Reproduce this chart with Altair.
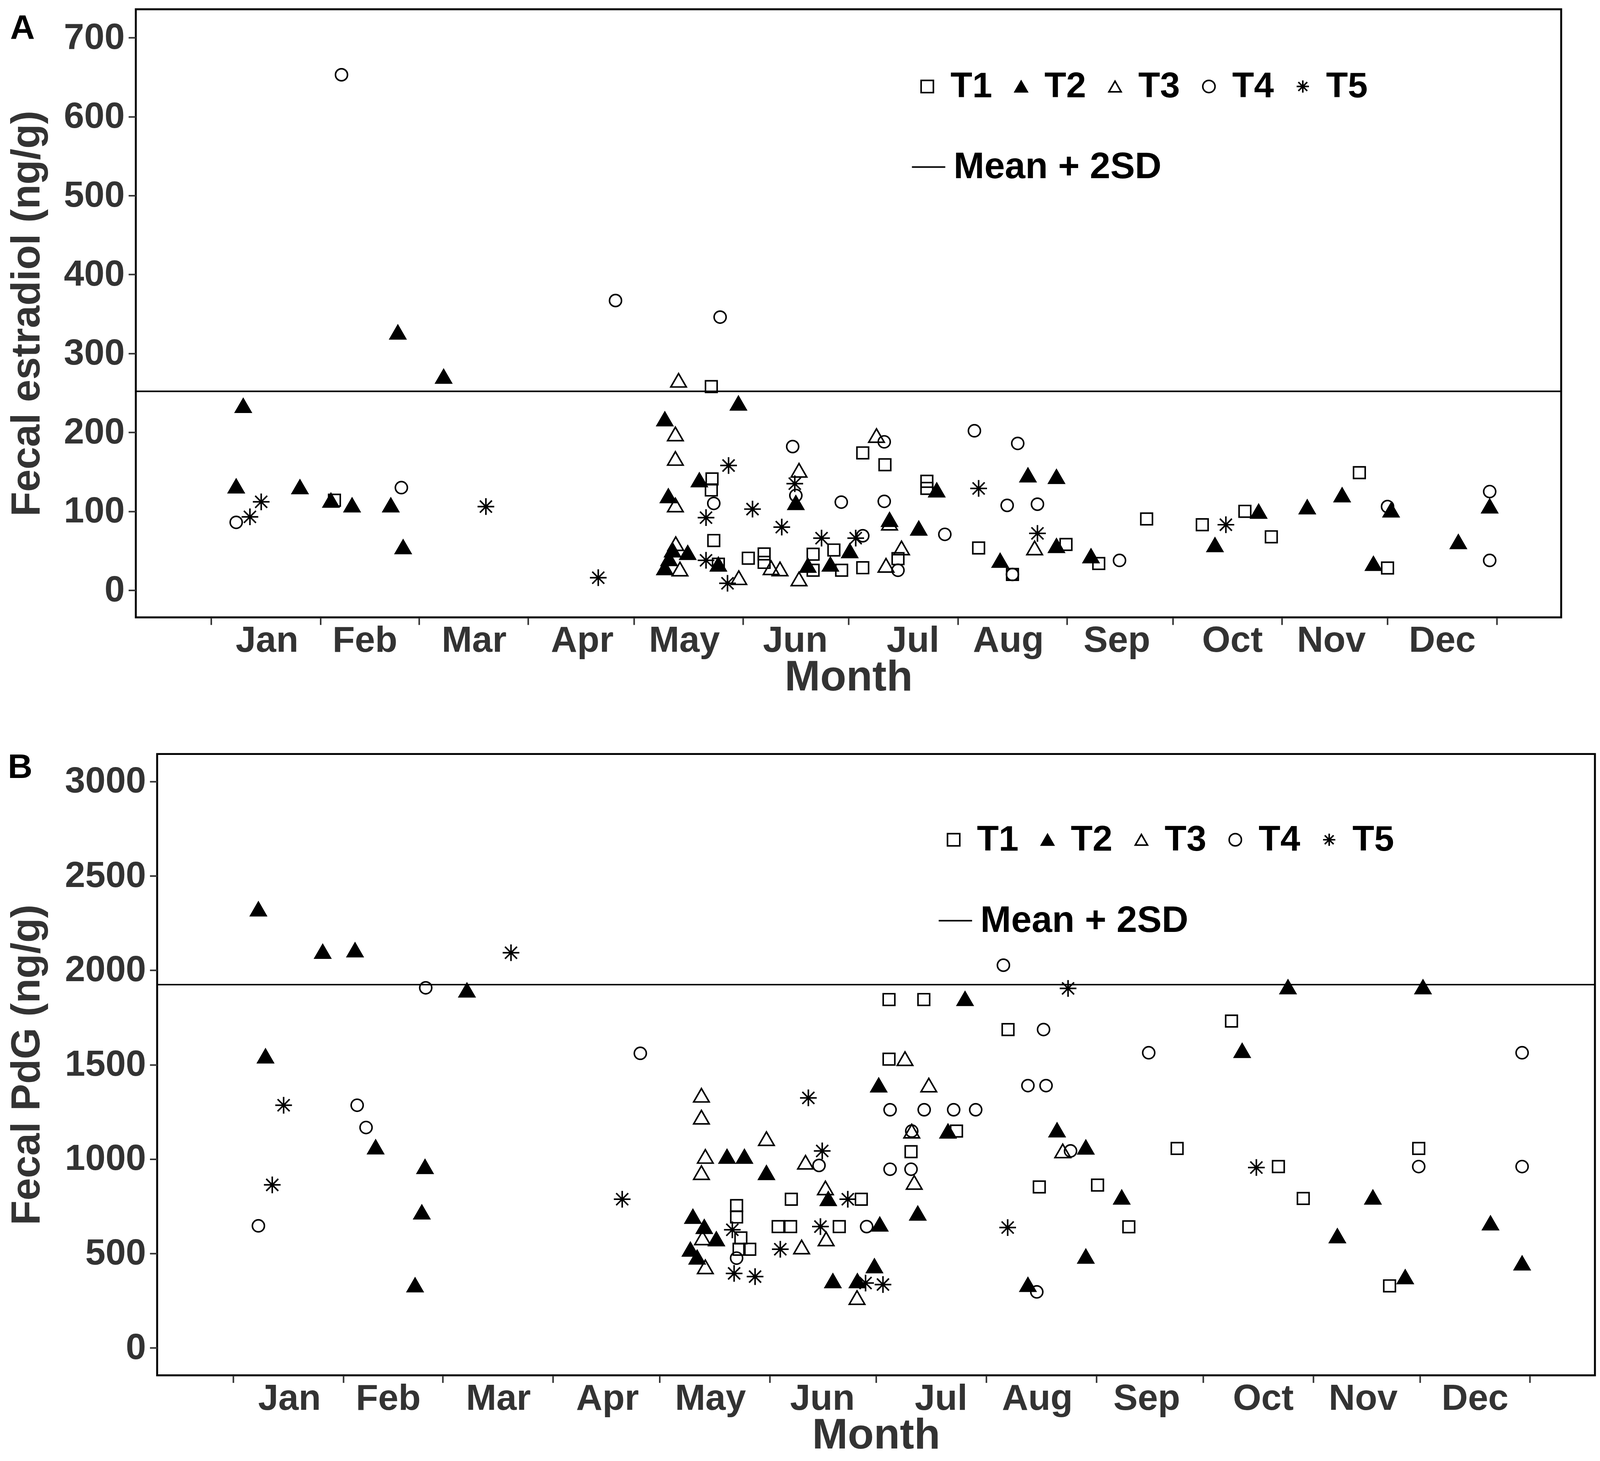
import altair as alt
import pandas as pd

FONT = "Liberation Sans"
GROUPS = ["T1", "T2", "T3", "T4", "T5"]
MONTHS = ["Jan", "Feb", "Mar", "Apr", "May", "Jun", "Jul", "Aug", "Sep", "Oct", "Nov", "Dec"]
MONTH_STARTS = [0, 31, 59, 90, 120, 151, 181, 212, 243, 273, 304, 334, 365]
MONTH_LABEL_POS = [15.8, 43.6, 74.6, 105.3, 134.3, 165.8, 199.2, 226.3, 257.1, 289.9, 318, 349.5]

# ---------------- Panel A : fecal estradiol (ng/g) ----------------
A_T1_day = [35, 142, 142.2, 142, 142.7, 144, 152.5, 157, 157, 170.9, 170.9, 176.8, 179, 185, 185,
            191.3, 195, 203.2, 203.2, 217.9, 227.5, 242.7, 252, 265.6, 281.4, 293.5, 301, 326, 334]
A_T1_val = [114, 258, 141, 127, 63, 33, 40.6, 46, 35.3, 45.6, 25.3, 51, 25.3, 28.5, 174,
            159, 40, 138, 129, 53.5, 20, 58, 33.9, 90.3, 83, 100, 67.7, 149, 28.2]
A_T2_day = [7.1, 9.1, 25.2, 34, 40, 51, 53, 54.5, 66, 128.8, 129.8, 130, 131, 135.3, 128.8, 138.6,
            144, 149.7, 166, 169.4, 175.8, 181.3, 192.6, 200.9, 206, 224, 231.9, 240, 240, 249.8,
            285, 297.4, 311.2, 321.1, 330, 335, 354.1, 363]
A_T2_val = [132, 234, 131, 114, 108, 108, 327, 55, 271, 217, 119.6, 40, 51, 47.7, 28.5, 139.8,
            33, 237, 111, 31.6, 33, 50, 89.6, 78.6, 127, 37.8, 146, 144, 56.5, 43.5,
            57.6, 100, 105.6, 120.8, 33.9, 101.6, 61.5, 106.7]
A_T3_day = [131.8, 131.8, 131.8, 131.9, 132.7, 133.1, 149.8, 159, 161.5, 166.9, 166.9, 188.9,
            191.6, 192.6, 196, 233.8]
A_T3_val = [198, 167, 108, 59, 266, 26.9, 15.9, 28.5, 27, 152, 14.3, 196, 31.6, 85, 53.6, 53.6]
A_T4_day = [7.1, 37, 54, 114.8, 142.7, 144.5, 165.1, 166, 178.9, 185, 191.1, 191.1, 195, 208.3,
            216.7, 226, 227.5, 229, 234.6, 257.9, 334, 363, 363]
A_T4_val = [86, 653, 130, 367, 110, 346, 182, 120, 111.6, 69, 188, 112.6, 25.3, 70.8,
            202, 107.5, 20, 186, 109, 37.8, 106, 125, 37.8]
A_T5_day = [11, 14.2, 78, 109.9, 140.5, 140.5, 146.6, 146.9, 153.7, 162, 165.7, 173.3, 183,
            217.9, 234.6, 288.1]
A_T5_val = [93, 112, 106, 15.9, 92, 37.9, 8.8, 158, 102.8, 80, 135, 66, 66, 129, 72, 83]
A_THRESHOLD = 252
A_YTICKS = [0, 100, 200, 300, 400, 500, 600, 700]

# ---------------- Panel B : fecal PdG (ng/g) ----------------
B_T1_day = [141.7, 141.7, 142.4, 142.9, 145.4, 153.4, 156.9, 157.1, 170.6, 176.8, 184.6, 184.6,
            190.8, 194.4, 203.6, 218.1, 226.9, 243.3, 252.1, 265.7, 281, 294.2, 301.2, 325.5, 333.7]
B_T1_val = [753, 693, 522, 582, 522, 642, 642, 787, 642, 787, 1845, 1529,
            1039, 1845, 1148, 1686, 852, 862, 641, 1056, 1731, 960, 791, 328, 1056]
B_T2_day = [7.1, 9.1, 25.2, 34.3, 40.1, 51.2, 53.1, 54, 65.8, 128.7, 129.4, 130.6, 132.6, 136,
            139, 143.9, 150.1, 167.5, 168.8, 175.7, 180.5, 181.7, 182, 192.7, 201.2, 206, 223.7,
            231.9, 240, 240, 250.1, 284, 296.9, 310.8, 320.8, 329.9, 334.9, 353.9, 362.8]
B_T2_val = [2325, 1546, 2100, 2108, 1064, 333, 719, 960, 1895, 522, 696, 480, 642, 577,
            1014, 1014, 928, 790, 355, 355, 434, 1392, 655, 713, 1148, 1850, 335,
            1154, 1063, 485, 798, 1575, 1912, 593, 798, 376, 1912, 661, 449]
B_T3_day = [131.8, 131.8, 131.8, 132.1, 132.9, 132.9, 150.1, 160, 161.1, 166.7, 166.9, 175.6,
            189.1, 191, 191.7, 195.8, 233.5]
B_T3_val = [1338, 1222, 928, 582, 1014, 429, 1108, 534, 983, 847, 577, 266,
            1532, 1148, 876, 1392, 1043]
B_T4_day = [7.1, 34.9, 37.4, 54.2, 114.6, 141.7, 164.9, 178.3, 184.9, 184.9, 190.8, 191, 194.5,
            202.8, 209, 216.8, 223.7, 226.2, 228.1, 228.8, 235.7, 257.7, 333.7, 362.8, 362.8]
B_T4_val = [646, 1285, 1167, 1907, 1560, 475, 966, 642, 1261, 946, 946, 1148, 1261,
            1261, 1261, 2027, 1389, 296, 1686, 1389, 1043, 1563, 960, 1563, 960]
B_T5_day = [11, 14.2, 78.2, 109.5, 140.5, 141, 146.9, 154, 161.9, 165.3, 165.8, 173, 178, 182.9,
            218, 235, 288]
B_T5_val = [863, 1285, 2093, 787, 625, 394, 377, 522, 1324, 642, 1043, 787, 343, 335,
            637, 1904, 955]
B_THRESHOLD = 1924
B_YTICKS = [0, 500, 1000, 1500, 2000, 2500, 3000]

# ---------------- styling ----------------
ASTERISK = "M-1,0L1,0M0,-1L0,1M-0.72,-0.72L0.72,0.72M-0.72,0.72L0.72,-0.72"
SHAPES = ["square", "triangle-up", "triangle-up", "circle", ASTERISK]
FILLS = ["transparent", "black", "transparent", "transparent", "transparent"]
STROKES = ["black", "black", "black", "black", "black"]
MARKER_SIZE = {"T1": 900, "T2": 1600, "T3": 1600, "T4": 960, "T5": 1850}
GREY = "#333333"
CHANNELS = dict(shape="independent", fill="independent", stroke="independent",
                color="independent")

label_expr = " : ".join(
    f"datum.value == {p} ? '{m}'" for p, m in zip(MONTH_LABEL_POS, MONTHS)
) + " : ''"
tick_test = "indexof([" + ",".join(str(v) for v in MONTH_STARTS) + "], datum.value) >= 0"


def build_panel(days, vals, threshold, yticks, ydomain, width, height, ytitle,
                title_x, letter, letter_xy, leg_pts, leg_line):
    rows = []
    for g in GROUPS:
        for d, v in zip(days[g], vals[g]):
            rows.append({"day": d, "value": v, "T": g})
    df = pd.DataFrame(rows)

    x_enc = alt.X(
        "day:Q",
        scale=alt.Scale(domain=[-21.4, 383.3], nice=False, zero=False),
        axis=alt.Axis(
            values=MONTH_STARTS + MONTH_LABEL_POS,
            labelExpr=label_expr,
            tickOpacity={"condition": {"test": tick_test, "value": 1}, "value": 0},
            labelOverlap=False, labelFlush=False, labelBound=False,
            domain=False, grid=False,
            tickSize=19, tickWidth=4, tickColor=GREY,
            labelPadding=-5, labelFont=FONT, labelFontSize=94, labelFontWeight="bold",
            labelColor=GREY, labelLimit=1000,
            title="Month", titleY=101, titleFont=FONT, titleFontSize=110,
            titleFontWeight="bold", titleColor=GREY,
        ),
    )
    y_enc = alt.Y(
        "value:Q",
        scale=alt.Scale(domain=ydomain, nice=False, zero=False),
        axis=alt.Axis(
            values=yticks, format="d", domain=False, grid=False,
            tickSize=19, tickWidth=4, tickColor=GREY,
            labelPadding=10, labelFont=FONT, labelFontSize=94, labelFontWeight="bold",
            labelColor=GREY, labelLimit=1000,
            title=ytitle, titleX=title_x, titleFont=FONT, titleFontSize=104,
            titleFontWeight="bold", titleColor=GREY, titleLimit=3000,
        ),
    )

    legend_pts = alt.Legend(
        orient="none", legendX=leg_pts[0], legendY=leg_pts[1], direction="horizontal",
        columns=5, title=None, padding=0, labelFont=FONT, labelFontSize=92,
        labelFontWeight="bold", labelColor="black", labelLimit=1000, symbolSize=1000,
        symbolStrokeWidth=4, symbolOpacity=1, labelOffset=14, columnPadding=28,
    )
    shape_scale = alt.Scale(domain=GROUPS, range=SHAPES)
    fill_scale = alt.Scale(domain=GROUPS, range=FILLS)
    stroke_scale = alt.Scale(domain=GROUPS, range=STROKES)

    layers = []
    for g in GROUPS:
        layers.append(
            alt.Chart(df)
            .transform_filter(alt.datum.T == g)
            .mark_point(filled=True, size=MARKER_SIZE[g], strokeWidth=4, opacity=1)
            .encode(
                x=x_enc, y=y_enc,
                shape=alt.Shape("T:N", scale=shape_scale, legend=legend_pts),
                fill=alt.Fill("T:N", scale=fill_scale, legend=legend_pts),
                stroke=alt.Stroke("T:N", scale=stroke_scale, legend=legend_pts),
            )
        )

    line_df = pd.DataFrame({"value": [threshold], "lab": ["Mean + 2SD"]})
    rule = alt.Chart(line_df).mark_rule(strokeWidth=4).encode(
        y=y_enc,
        color=alt.Color(
            "lab:N", scale=alt.Scale(range=["black"]),
            legend=alt.Legend(
                orient="none", legendX=leg_line[0], legendY=leg_line[1], title=None,
                padding=0, labelFont=FONT, labelFontSize=95, labelFontWeight="bold",
                labelColor="black", labelLimit=2000, symbolType="stroke", symbolSize=7400,
                symbolStrokeWidth=4, labelOffset=17,
            ),
        ),
    )

    letter_df = pd.DataFrame({"letter": [letter]})
    letter_mark = alt.Chart(letter_df).mark_text(
        align="left", baseline="top", font=FONT, fontSize=88, fontWeight="bold", color="black"
    ).encode(text="letter:N", x=alt.value(letter_xy[0]), y=alt.value(letter_xy[1]))

    panel = alt.layer(rule, *layers, letter_mark).properties(width=width, height=height)

    # a 1-px invisible spacer column lets each panel sit flush to its own left bounds
    spacer = alt.Chart(pd.DataFrame({"s": [0]})).mark_point(opacity=0).properties(
        width=1, height=1, view=alt.ViewBackground(stroke="transparent")
    )
    return (
        alt.hconcat(spacer, panel, spacing=0)
        .resolve_scale(**CHANNELS)
        .resolve_legend(**CHANNELS)
    )


row_a = build_panel(
    {"T1": A_T1_day, "T2": A_T2_day, "T3": A_T3_day, "T4": A_T4_day, "T5": A_T5_day},
    {"T1": A_T1_val, "T2": A_T2_val, "T3": A_T3_val, "T4": A_T4_val, "T5": A_T5_val},
    A_THRESHOLD, A_YTICKS, [-34.4, 736], 3674, 1567, "Fecal estradiol (ng/g)",
    -227, "A", (-324, 5.5), (1994, 153), (1996, 359),
)
row_b = build_panel(
    {"T1": B_T1_day, "T2": B_T2_day, "T3": B_T3_day, "T4": B_T4_day, "T5": B_T5_day},
    {"T1": B_T1_val, "T2": B_T2_val, "T3": B_T3_val, "T4": B_T4_val, "T5": B_T5_val},
    B_THRESHOLD, B_YTICKS, [-146, 3146], 3706, 1601, "Fecal PdG (ng/g)",
    -282, "B", (-385, -8.5), (2007, 175), (2010, 382),
)

chart = (
    alt.vconcat(row_a, row_b, spacing=128)
    .resolve_scale(**CHANNELS)
    .resolve_legend(**CHANNELS)
    .properties(padding={"left": 0, "top": 0, "right": 0, "bottom": 0})
    .configure(background="white", font=FONT,
               view=alt.ViewConfig(stroke="black", strokeWidth=5))
)

chart.save("out.html", embed_options={"renderer": "svg", "actions": False})
